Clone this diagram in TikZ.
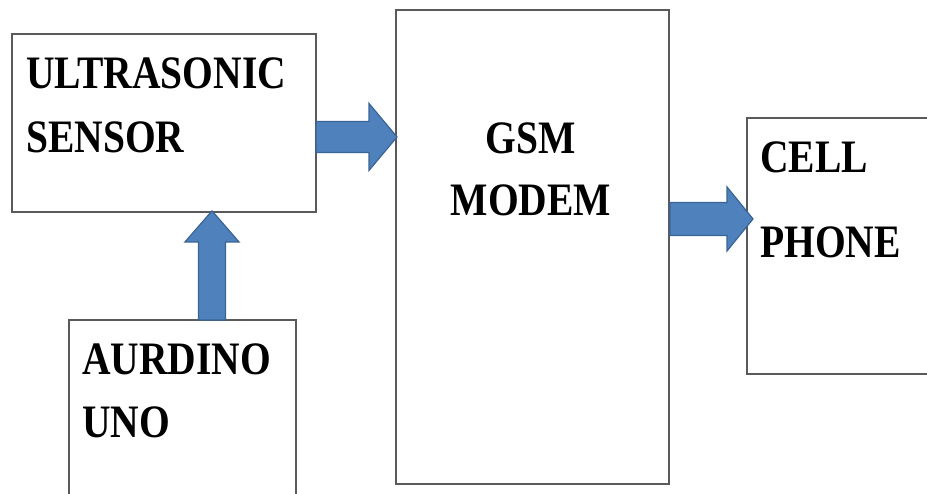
\documentclass[tikz,border=0pt]{standalone}
\usepackage{fontspec}
\usepackage{graphicx}
\setmainfont{Liberation Serif}
\usetikzlibrary{calc}
\definecolor{arrowfill}{HTML}{4F81BD}
\definecolor{arrowline}{HTML}{3A6494}
\definecolor{boxline}{HTML}{5A5A5A}
\newcommand\lbl[1]{\scalebox{0.85}[1]{#1}}
\newcommand\harrow[5]{\filldraw[barrow] ($(#1)+(0,#3)$) -- ($(#2)+(-#5,#3)$) -- ($(#2)+(-#5,#4)$) -- (#2) -- ($(#2)+(-#5,-#4)$) -- ($(#2)+(-#5,-#3)$) -- ($(#1)+(0,-#3)$) -- cycle;}
\newcommand\uarrow[5]{\filldraw[barrow] ($(#1)+(#3,0)$) -- ($(#2)+(#3,#5)$) -- ($(#2)+(#4,#5)$) -- (#2) -- ($(#2)+(-#4,#5)$) -- ($(#2)+(-#3,#5)$) -- ($(#1)+(-#3,0)$) -- cycle;}
\begin{document}
\begin{tikzpicture}[x=1pt,y=-1pt,
  blk/.style={draw=boxline, line width=1.9pt, fill=none, rectangle, inner sep=0pt, anchor=north west},
  lab/.style={anchor=base west, inner sep=0pt, font=\fontsize{46.5}{50}\selectfont\bfseries},
  labc/.style={anchor=base, inner sep=0pt, font=\fontsize{46.5}{50}\selectfont\bfseries},
  barrow/.style={fill=arrowfill, draw=arrowline, line width=1.2pt, line join=miter}]
\clip (0,0) rectangle (927,493);
\fill[white] (0,0) rectangle (927,493);
% boxes
\node[blk, minimum width=304pt, minimum height=178pt] (us) at (11,33) {};
\node[blk, minimum width=273pt, minimum height=474pt] (gsm) at (395,9) {};
\node[blk, minimum width=200pt, minimum height=256pt] (cell) at (746,117) {};
\node[blk, minimum width=227pt, minimum height=200pt] (uno) at (68,319) {};
% labels
\node[lab] (t1) at (26,88) {\lbl{ULTRASONIC}};
\node[lab] (t2) at (26,152) {\lbl{SENSOR}};
\node[labc] (t3) at (531,153) {\lbl{GSM}};
\node[labc] (t4) at (531,215) {\lbl{MODEM}};
\node[lab] (t5) at (760,172) {\lbl{CELL}};
\node[lab] (t6) at (760,257) {\lbl{PHONE}};
\node[lab] (t7) at (82,374) {\lbl{AURDINO}};
\node[lab] (t8) at (82,437) {\lbl{UNO}};
% arrow anchors
\path (us.east) ++(-1,14) coordinate (a1s);
\path ($(gsm.west |- a1s)+(2,0)$) coordinate (a1e);
\path (gsm.east) ++(0,-28) coordinate (a3s);
\path ($(cell.west |- a3s)+(7,0)$) coordinate (a3e);
\path (uno.north west) ++(144,1) coordinate (a2s);
\path ($(us.south west -| a2s)+(0,-2)$) coordinate (a2e);
% block arrows
\harrow{a1s}{a1e}{15.5}{33.5}{28}
\harrow{a3s}{a3e}{16.5}{32}{26}
\uarrow{a2s}{a2e}{13.5}{27}{31}
\end{tikzpicture}
\end{document}
